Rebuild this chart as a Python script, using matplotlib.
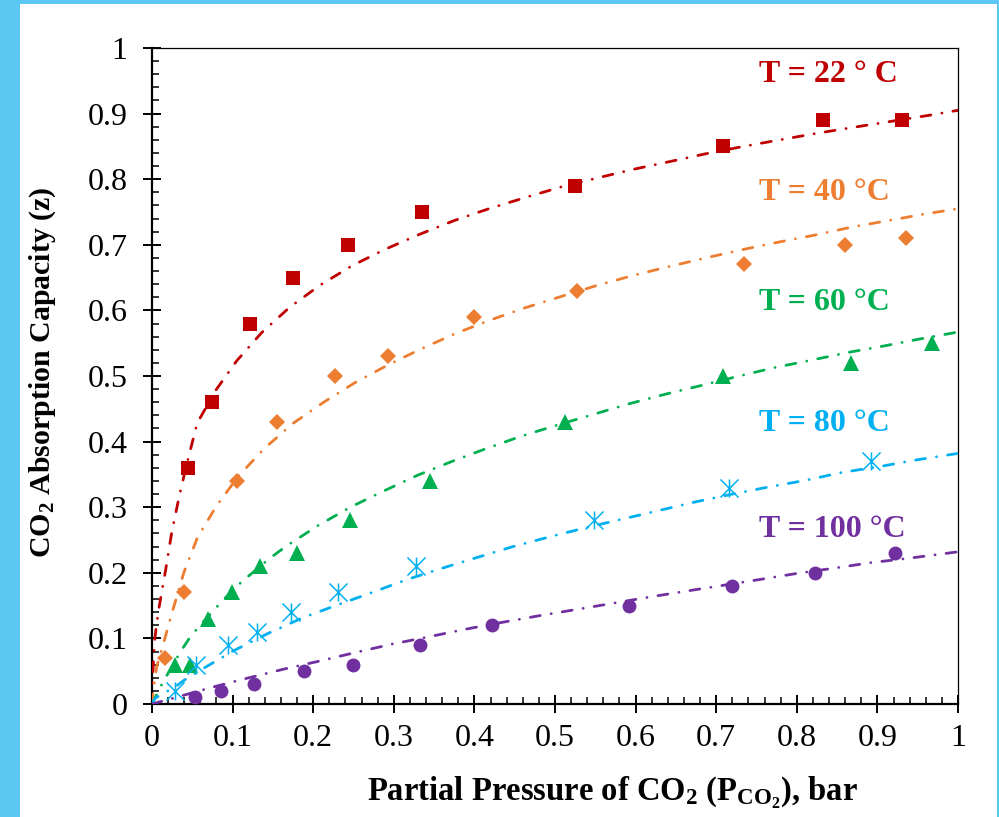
import matplotlib
matplotlib.use("Agg")
import matplotlib.pyplot as plt
from matplotlib.path import Path
from matplotlib.patches import Rectangle
from matplotlib.ticker import MultipleLocator, FuncFormatter

plt.rcParams['font.family'] = ['Liberation Serif', 'DejaVu Serif']
plt.rcParams['mathtext.fontset'] = 'custom'
plt.rcParams['mathtext.rm'] = 'Liberation Serif'
plt.rcParams['mathtext.bf'] = 'Liberation Serif:bold'
plt.rcParams['mathtext.it'] = 'Liberation Serif:italic'

# ---------------- data ----------------
temps = ["22", "40", "60", "80", "100"]
labels = ["T = 22 ° C", "T = 40 °C", "T = 60 °C", "T = 80 °C", "T = 100 °C"]
colors = ["#C00000", "#ED7D31", "#00B050", "#00B0F0", "#7030A0"]

# experimental points
p_22 = [0.045, 0.075, 0.122, 0.175, 0.243, 0.335, 0.525, 0.708, 0.832, 0.930]
z_22 = [0.36, 0.46, 0.58, 0.65, 0.70, 0.75, 0.79, 0.85, 0.89, 0.89]
p_40 = [0.016, 0.040, 0.106, 0.155, 0.227, 0.293, 0.400, 0.527, 0.734, 0.860, 0.936]
z_40 = [0.07, 0.17, 0.34, 0.43, 0.50, 0.53, 0.59, 0.63, 0.67, 0.70, 0.71]
p_60 = [0.029, 0.047, 0.069, 0.099, 0.134, 0.180, 0.246, 0.345, 0.512, 0.708, 0.867, 0.968]
z_60 = [0.06, 0.06, 0.13, 0.17, 0.21, 0.23, 0.28, 0.34, 0.43, 0.50, 0.52, 0.55]
p_80 = [0.028, 0.055, 0.094, 0.130, 0.172, 0.231, 0.328, 0.548, 0.716, 0.892]
z_80 = [0.02, 0.06, 0.09, 0.11, 0.14, 0.17, 0.21, 0.28, 0.33, 0.37]
p_100 = [0.053, 0.086, 0.127, 0.189, 0.249, 0.333, 0.422, 0.592, 0.720, 0.823, 0.922]
z_100 = [0.01, 0.02, 0.03, 0.05, 0.06, 0.09, 0.12, 0.15, 0.18, 0.20, 0.23]

# model curves
pf_22 = [0, 0.001, 0.003, 0.0055, 0.009, 0.017, 0.0244, 0.034, 0.043, 0.056, 0.079,
         0.105, 0.136, 0.171, 0.208, 0.248, 0.289, 0.332, 0.375, 0.418, 0.463, 0.507,
         0.553, 0.597, 0.643, 0.688, 0.734, 0.779, 0.825, 0.870, 0.916, 0.962, 1.0]
zf_22 = [0, 0.045, 0.093, 0.12, 0.149, 0.205, 0.261, 0.318, 0.365, 0.428, 0.478,
         0.523, 0.566, 0.605, 0.638, 0.668, 0.693, 0.716, 0.737, 0.755, 0.772, 0.788,
         0.802, 0.815, 0.827, 0.839, 0.850, 0.860, 0.870, 0.879, 0.888, 0.897, 0.905]
pf_40 = [0, 0.002, 0.0058, 0.014, 0.020, 0.0265, 0.0397, 0.0563, 0.080, 0.107, 0.139,
         0.174, 0.213, 0.252, 0.293, 0.335, 0.377, 0.419, 0.463, 0.507, 0.552, 0.596,
         0.642, 0.687, 0.732, 0.777, 0.823, 0.868, 0.914, 0.959, 1.0]
zf_40 = [0, 0.025, 0.057, 0.091, 0.118, 0.146, 0.201, 0.2535, 0.302, 0.347, 0.389,
         0.427, 0.46, 0.49, 0.517, 0.542, 0.565, 0.585, 0.604, 0.621, 0.638, 0.653,
         0.667, 0.680, 0.6925, 0.704, 0.715, 0.727, 0.737, 0.747, 0.755]
pf_60 = [0, 0.0128, 0.036, 0.049, 0.087, 0.111, 0.146, 0.167, 0.206, 0.246, 0.288,
         0.330, 0.3726, 0.416, 0.46, 0.505, 0.549, 0.593, 0.638, 0.683, 0.727, 0.773,
         0.8176, 0.864, 0.909, 0.955, 1.0]
zf_60 = [0, 0.0315, 0.081, 0.105, 0.157, 0.186, 0.222, 0.241, 0.272, 0.30, 0.325,
         0.349, 0.370, 0.39, 0.409, 0.426, 0.442, 0.458, 0.4726, 0.486, 0.4995, 0.513,
         0.524, 0.536, 0.546, 0.557, 0.567]
pf_80 = [0, 0.004, 0.0285, 0.043, 0.062, 0.101, 0.143, 0.186, 0.23, 0.273, 0.317, 0.36,
         0.405, 0.448, 0.494, 0.539, 0.584, 0.629, 0.674, 0.72, 0.766, 0.811, 0.856,
         0.903, 0.948, 1.0]
zf_80 = [0, 0.009, 0.026, 0.039, 0.053, 0.081, 0.107, 0.131, 0.151, 0.170, 0.19, 0.207,
         0.224, 0.24, 0.255, 0.269, 0.282, 0.295, 0.308, 0.32, 0.331, 0.341, 0.353,
         0.362, 0.372, 0.382]
pf_100 = [0, 0.0285, 0.073, 0.117, 0.163, 0.208, 0.254, 0.2986, 0.344, 0.389, 0.4346,
          0.4805, 0.526, 0.5716, 0.617, 0.6625, 0.709, 0.755, 0.8, 0.846, 0.892, 0.938, 1.0]
zf_100 = [0, 0.0096, 0.025, 0.039, 0.053, 0.0655, 0.079, 0.0915, 0.1026, 0.114, 0.1245,
          0.1346, 0.144, 0.1535, 0.163, 0.172, 0.181, 0.19, 0.199, 0.207, 0.2155, 0.222, 0.232]

# label positions (data coords)
label_x = [0.753, 0.753, 0.753, 0.753, 0.753]
label_y = [0.948, 0.768, 0.601, 0.416, 0.2546]

x_ticks = [0, 0.1, 0.2, 0.3, 0.4, 0.5, 0.6, 0.7, 0.8, 0.9, 1]
y_ticks = [0, 0.1, 0.2, 0.3, 0.4, 0.5, 0.6, 0.7, 0.8, 0.9, 1]

# ---------------- figure ----------------
W, H = 999, 817
fig = plt.figure(figsize=(W / 100, H / 100), dpi=100, facecolor="#5BC8F4")
bg = Rectangle((20 / W, 0), (997 - 20) / W, (H - 4) / H,
               transform=fig.transFigure, facecolor="white",
               edgecolor="none", zorder=-10)
fig.patches.append(bg)

ax = fig.add_axes([152 / W, 1 - 704 / H, (958 - 152) / W, (704 - 48) / H])
ax.set_zorder(5)
ax.set_facecolor("white")

asterisk = Path([(0, -1), (0, 1), (-1, -1), (1, 1), (-1, 1), (1, -1)],
                [Path.MOVETO, Path.LINETO] * 3)

pts = [(p_22, z_22), (p_40, z_40), (p_60, z_60), (p_80, z_80), (p_100, z_100)]
fits = [(pf_22, zf_22), (pf_40, zf_40), (pf_60, zf_60), (pf_80, zf_80), (pf_100, zf_100)]
markers = ["s", "D", "^", asterisk, "o"]
msizes = [9.5, 8.5, 11, 13, 10]

for i in range(5):
    pf, zf = fits[i]
    line, = ax.plot(pf, zf, color=colors[i], lw=2.0, solid_capstyle="round",
                    dash_capstyle="round", zorder=3)
    line.set_dashes([3.6, 4.0, 0.05, 4.0])
    p, z = pts[i]
    if i == 3:
        ax.plot(p, z, linestyle="none", marker=markers[i], ms=msizes[i],
                markerfacecolor="none", markeredgecolor=colors[i], mew=1.1, zorder=4)
    else:
        ax.plot(p, z, linestyle="none", marker=markers[i], ms=msizes[i],
                color=colors[i], markeredgewidth=0, zorder=4)
    ax.text(label_x[i], label_y[i], labels[i], color=colors[i], fontsize=23,
            fontweight="bold", ha="left", va="baseline", zorder=5)

ax.set_xlim(0, 1)
ax.set_ylim(0, 1)
ax.set_xticks(x_ticks)
ax.set_yticks(y_ticks)
ax.xaxis.set_minor_locator(MultipleLocator(0.02))
ax.yaxis.set_minor_locator(MultipleLocator(0.02))
fmt = FuncFormatter(lambda v, pos: "%g" % round(v, 2))
ax.xaxis.set_major_formatter(fmt)
ax.yaxis.set_major_formatter(fmt)

ax.tick_params(which="major", direction="inout", length=13.5, width=1.4,
               labelsize=23, color="black")
ax.tick_params(axis="y", which="major", pad=11)
ax.tick_params(axis="x", which="major", pad=8)
ax.tick_params(which="minor", direction="in", length=5, width=1.1)
ax.tick_params(top=False, right=False, which="both")

for s in ["left", "bottom"]:
    ax.spines[s].set_linewidth(1.6)
for s in ["top", "right"]:
    ax.spines[s].set_linewidth(0.9)

fig.text(612 / W, 1 - 801 / H,
         r"Partial Pressure of CO$_{\mathbf{2}}$ (P$_{\mathbf{CO}_{\mathbf{2}}}$), bar",
         ha="center", va="baseline", fontsize=23.5, fontweight="bold")
fig.text(50 / W, 1 - 372 / H, r"CO$_{\mathbf{2}}$ Absorption Capacity (z)",
         ha="center", va="baseline", rotation=90, rotation_mode="anchor",
         fontsize=21.5, fontweight="bold")

fig.savefig("out.png", dpi=100, facecolor=fig.get_facecolor())
